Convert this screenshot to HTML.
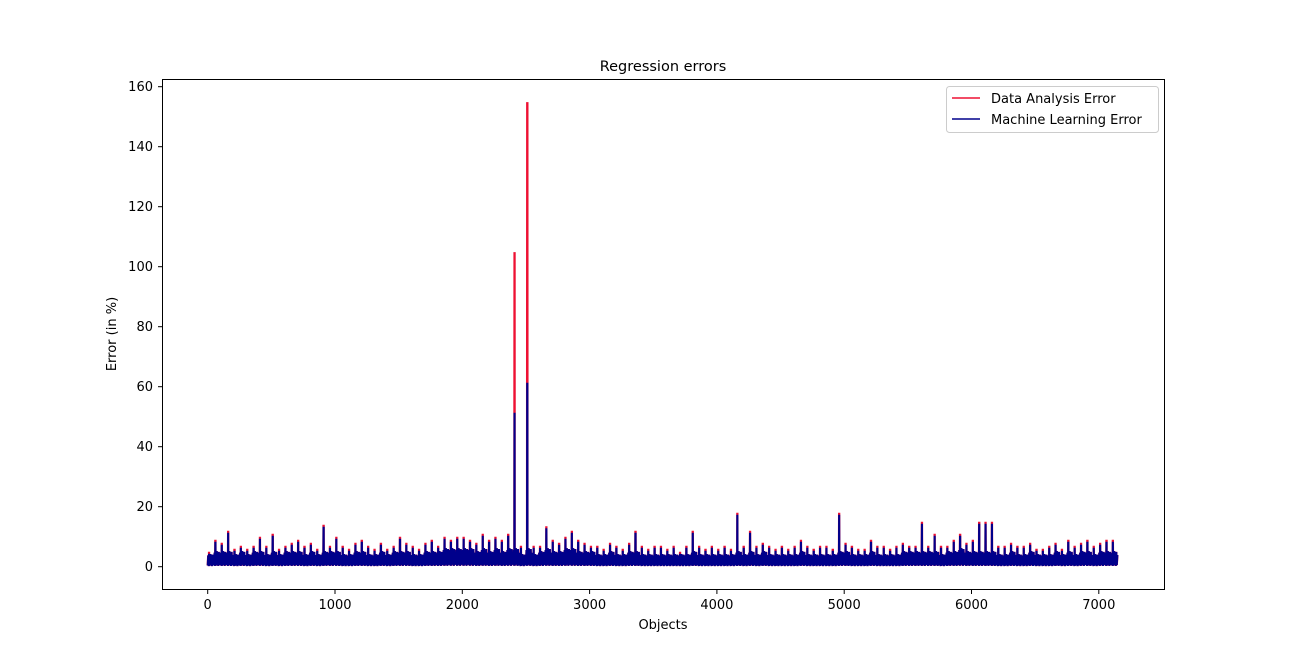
<!DOCTYPE html>
<html><head><meta charset="utf-8"><style>
body{margin:0;background:#fff;font-family:"Liberation Sans","DejaVu Sans",sans-serif}
svg text{font-family:"DejaVu Sans","Liberation Sans",sans-serif;fill:#000}
</style></head><body>
<svg id="chart" width="1294" height="662" xmlns="http://www.w3.org/2000/svg">
<text x="663" y="71" font-size="14.5" text-anchor="middle">Regression errors</text>
<g id="marks"></g>
<rect x="162.5" y="79.5" width="1002" height="510" fill="none" stroke="#000" stroke-width="1"/>
<g id="axes"></g>
<text x="663" y="629" font-size="13" text-anchor="middle">Objects</text>
<text transform="translate(116,334) rotate(-90)" font-size="13" text-anchor="middle">Error (in %)</text>
<g>
<rect x="946.5" y="86.5" width="212" height="46" rx="3" fill="#fff" fill-opacity="0.8" stroke="#ccc"/>
<line x1="952" y1="98" x2="980" y2="98" stroke="#ee1133" stroke-width="1.5"/>
<text x="991" y="103" font-size="13">Data Analysis Error</text>
<line x1="952" y1="119" x2="980" y2="119" stroke="#00008b" stroke-width="1.5"/>
<text x="991" y="124" font-size="13">Machine Learning Error</text>
</g>
</svg>
<script>
const binSize = 50;
const mlMax = [4,8,7,11,5,6,5,6,9,6,10,5,6,7,8,6,7,5,13,6,
 9,6,5,7,8,6,5,7,5,6,9,7,6,5,7,8,6,9,8,9,
 9,8,7,10,8,9,8,10,51,6,61,6,6,12.5,8,7,9,11,8,7,
 6,6,5,7,6,5,7,11,6,5,6,6,5,6,4,6,11,6,5,6,
 5,6,5,17,6,11,6,7,6,5,6,5,6,8,6,5,6,6,5,17,
 7,6,5,5,8,6,6,5,6,7,6,6,14,6,10,6,6,8,10,7,
 8,14,14,14,6,6,7,6,6,7,5,5,6,7,5,8,6,7,8,6,7,8,8];
const daMax = mlMax.map(v=>v+0.6);
daMax[48]=104.5; daMax[50]=154.5;
const mlTyp = [3,4,4,4,3,4,3,4,4,3,4,3,4,4,4,3,4,3,4,4,
 4,3,3,4,4,3,3,4,3,4,4,4,3,3,4,4,4,5,5,5,
 5,5,4,5,4,5,4,5,5,3,5,3,4,5,4,4,5,5,4,4,
 4,3,3,4,3,3,4,4,3,3,3,3,3,3,3,3,4,3,3,3,
 3,3,3,4,3,4,3,4,3,3,3,3,3,4,3,3,3,3,3,4,
 4,3,3,3,4,3,3,3,3,4,4,4,4,4,4,3,4,4,5,4,
 4,4,4,4,3,3,4,3,3,4,3,3,3,4,3,4,3,4,4,3,4,4,4];
const xTicks=[0,1000,2000,3000,4000,5000,6000,7000];
const yTicks=[0,20,40,60,80,100,120,140,160];
const X=v=>207.7+v*0.1273, Y=v=>566.7-v*3;
const NS='http://www.w3.org/2000/svg';
const marks=document.getElementById('marks'), axes=document.getElementById('axes');
const shape=[0.1,0.9,0.05,0.7,0.1,1.0,0.15,0.8,0.05,0.95,0.1,0.75];
function series(maxArr,color,name,w){
  let pts=[];
  maxArr.forEach((m,i)=>{
    const x0=i*binSize, t=mlTyp[i]+1.2;
    shape.forEach((s,k)=>{
      const xx=x0+k*binSize/shape.length;
      pts.push([X(xx),Y(s*t)]);
      if(k===2){pts.push([X(x0+10),Y(m)],[X(x0+11),Y(m)],[X(x0+12),Y(0.3)]);}
    });
  });
  const p=document.createElementNS(NS,'polyline');
  
  
  p.setAttribute('points',pts.map(q=>q[0].toFixed(1)+','+q[1].toFixed(1)).join(' '));
  p.setAttribute('fill','none');p.setAttribute('stroke',color);p.setAttribute('stroke-width',w);
  marks.appendChild(p);
}
series(daMax,'#ee1133','data-analysis-error-line','2.2');
series(mlMax,'#00008b','machine-learning-error-line','2');
xTicks.forEach(v=>{
  const l=document.createElementNS(NS,'line');
  
  
  l.setAttribute('x1',X(v));l.setAttribute('x2',X(v));l.setAttribute('y1',590);l.setAttribute('y2',594);l.setAttribute('stroke','#000');
  axes.appendChild(l);
  const t=document.createElementNS(NS,'text');
  
  
  t.setAttribute('x',X(v));t.setAttribute('y',609);t.setAttribute('font-size','13');t.setAttribute('text-anchor','middle');
  t.textContent=v;axes.appendChild(t);
});
yTicks.forEach(v=>{
  const l=document.createElementNS(NS,'line');
  
  
  l.setAttribute('x1',158);l.setAttribute('x2',162);l.setAttribute('y1',Y(v));l.setAttribute('y2',Y(v));l.setAttribute('stroke','#000');
  axes.appendChild(l);
  const t=document.createElementNS(NS,'text');
  
  
  t.setAttribute('x',153);t.setAttribute('y',Y(v)+4.5);t.setAttribute('font-size','13');t.setAttribute('text-anchor','end');
  t.textContent=v;axes.appendChild(t);
});
</script>
</body></html>
